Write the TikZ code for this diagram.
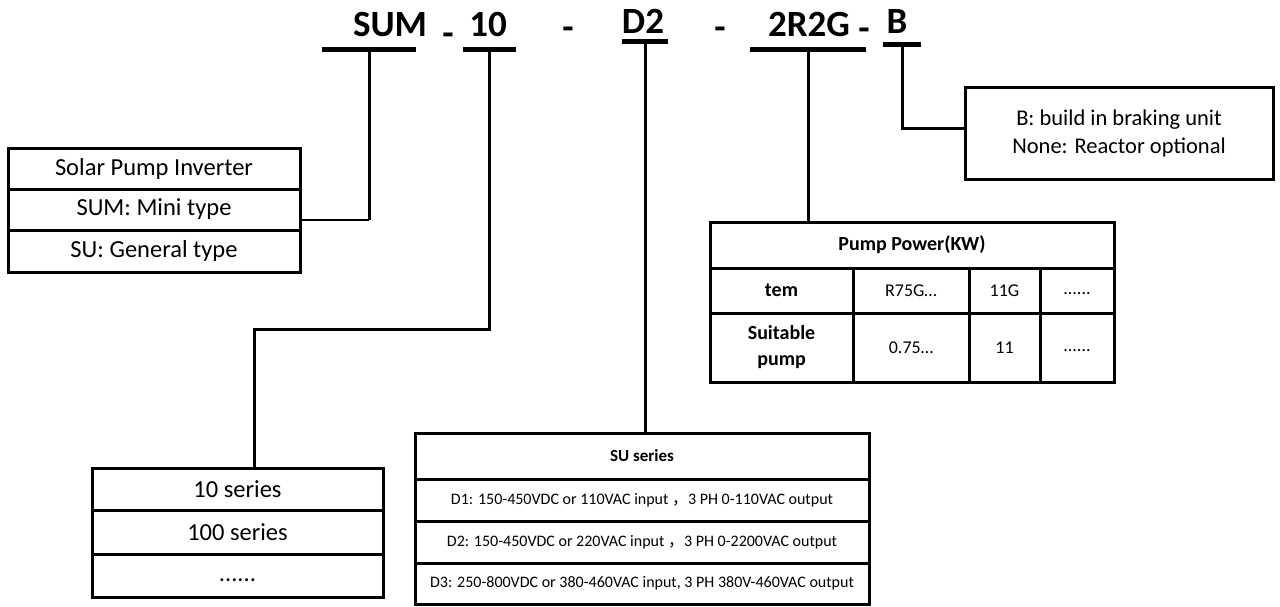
\documentclass[tikz,border=0pt]{standalone}
\usepackage{fontspec}
\setmainfont{Carlito}
\newfontfamily\cjkf{Noto Sans CJK SC}
\begin{document}
\begin{tikzpicture}[x=1pt,y=-1pt,
  lbl/.style={font=\fontsize{37}{40}\selectfont\bfseries, inner sep=0pt, anchor=base},
  bar/.style={fill=black, inner sep=0pt, minimum height=5pt},
  conn/.style={line width=3pt},
  cell/.style={draw, line width=3pt, inner sep=0pt, align=center},
  big/.style={font=\fontsize{24.5}{28}\selectfont},
  small/.style={font=\fontsize{16}{19}\selectfont},
  tbold/.style={font=\fontsize{20}{23}\selectfont\bfseries},
  treg/.style={font=\fontsize{18}{21}\selectfont}]
\useasboundingbox (0,0) rectangle (1280,606);
% top code
\node[lbl] (tSUM) at (390,36) {SUM};
\node[lbl] (dA) at (448,45) {-};
\node[lbl] (tTEN) at (488,36) {10};
\node[lbl] (dB) at (568,39.5) {-};
\node[lbl] (tD) at (643,33) {D2};
\node[lbl] (dC) at (720,39) {-};
\node[lbl] (tRG) at (809,36) {2R2G};
\node[lbl] (dD) at (864,40) {-};
\node[lbl] (tB) at (897,33) {B};
% bars
\node[bar, minimum width=94pt] (sumbar) at (369,49.5) {};
\node[bar, minimum width=53pt] (tenbar) at (489,49.5) {};
\node[bar, minimum width=46pt] (dbar) at (645,41.5) {};
\node[bar, minimum width=116pt] (rgbar) at (808,49.5) {};
\node[bar, minimum width=38pt] (bbar) at (902,44.5) {};
% left box
\node[cell, big, minimum width=292pt, minimum height=41pt] (spi1) at (154,168.5) {Solar Pump Inverter};
\node[cell, big, minimum width=292pt, minimum height=41pt] (spi2) at (154,209.5) {SUM: Mini type};
\node[cell, big, minimum width=292pt, minimum height=42pt] (spi3) at (154,251) {SU: General type};
% series box
\node[cell, big, minimum width=291pt, minimum height=42pt] (ser1) at (237.5,489) {10 series};
\node[cell, big, minimum width=291pt, minimum height=44pt] (ser2) at (237.5,532) {100 series};
\node[cell, big, minimum width=291pt, minimum height=43pt] (ser3) at (237.5,575.5) {\vphantom{Ag}......};
% SU series box
\node[cell, font=\fontsize{17}{19}\selectfont\bfseries, minimum width=454pt, minimum height=46pt] (su0) at (642,456) {SU series};
\node[cell, small, minimum width=454pt, minimum height=42pt] (su1) at (642,500) {D1: 150-450VDC or 110VAC input {\cjkf ，}3 PH 0-110VAC output};
\node[cell, small, minimum width=454pt, minimum height=42pt] (su2) at (642,542) {D2: 150-450VDC or 220VAC input {\cjkf ，}3 PH 0-2200VAC output};
\node[cell, small, minimum width=454pt, minimum height=41pt] (su3) at (642,583.5) {D3: 250-800VDC or 380-460VAC input, 3 PH 380V-460VAC output};
% pump power table
\node[cell, tbold, minimum width=404pt, minimum height=46pt] (pp) at (912,245) {Pump Power(KW)};
\node[cell, tbold, minimum width=143pt, minimum height=45pt] (pa1) at (781.5,290.5) {tem};
\node[cell, treg, minimum width=116pt, minimum height=45pt] (pa2) at (911,290.5) {R75G…};
\node[cell, treg, minimum width=71pt, minimum height=45pt] (pa3) at (1004.5,290.5) {11G};
\node[cell, treg, minimum width=74pt, minimum height=45pt] (pa4) at (1077,290.5) {\vphantom{Ag}......};
\node[cell, tbold, minimum width=143pt, minimum height=69pt, font=\fontsize{20}{26}\selectfont\bfseries] (pb1) at (781.5,347.5) {Suitable\\pump};
\node[cell, treg, minimum width=116pt, minimum height=69pt] (pb2) at (911,347.5) {0.75…};
\node[cell, treg, minimum width=71pt, minimum height=69pt] (pb3) at (1004.5,347.5) {11};
\node[cell, treg, minimum width=74pt, minimum height=69pt] (pb4) at (1077,347.5) {\vphantom{Ag}......};
% B box
\node[cell, font=\fontsize{22.5}{28}\selectfont, minimum width=308pt, minimum height=92pt] (bbox) at (1119,133) {B: build in braking unit\\None: Reactor optional};
% connectors
\coordinate (k1) at (301,220);
\coordinate (k2) at (254,329);
\coordinate (k3) at (965,128);
\draw[conn] (sumbar.south) -- (sumbar.south |- k1);
\draw[line width=2pt] (sumbar.south |- k1) -- (k1);
\draw[conn] (tenbar.south) |- (k2) -- (k2 |- ser1.north);
\draw[conn] (dbar.south) -- (dbar.south |- su0.north);
\draw[conn] (rgbar.south) -- (rgbar.south |- pp.north);
\draw[conn] (bbar.south) |- (k3);
\end{tikzpicture}
\end{document}
